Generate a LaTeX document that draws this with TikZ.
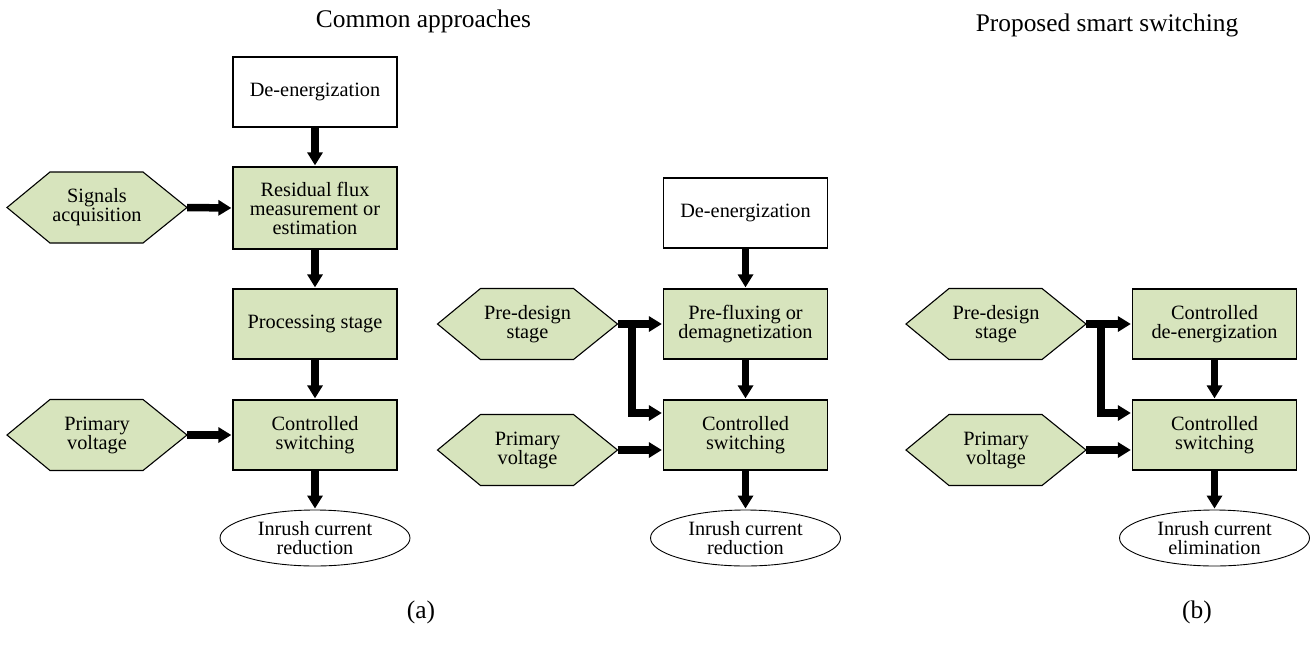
\documentclass[tikz,border=0pt]{standalone}
\usepackage{fontspec}
\setmainfont{Liberation Serif}
\usetikzlibrary{arrows.meta,shapes.geometric}
\definecolor{boxgreen}{RGB}{215,228,189}
\tikzset{
  box/.style={draw=black, line width=1.3pt, fill=boxgreen, minimum width=164pt, minimum height=70pt, inner sep=0pt, align=center, font=\txt},
  whitebox/.style={box, fill=white},
  hexfill/.style={draw=black, line width=1.1pt, fill=boxgreen, line join=miter},
  hextext/.style={minimum width=180pt, minimum height=71pt, inner sep=0pt, align=center, font=\txt},
  oval/.style={ellipse, draw=black, line width=0.9pt, minimum width=190pt, minimum height=56pt, inner sep=0pt, align=center, font=\txt},
  arr/.style={line width=7.5pt, -{Triangle[length=13pt,width=15pt]}, shorten >=1pt},
  lbl/.style={font=\txt, inner sep=0pt},
  title/.style={font=\ttl, inner sep=0pt}
}
\newcommand\txt{\fontsize{20.3}{19}\selectfont}
\newcommand\ttl{\fontsize{25.4}{30}\selectfont}
\newcommand\hexnode[4]{%
  \filldraw[hexfill] (#2-90,#3) -- (#2-47,#3-35.5) -- (#2+46,#3-35.5) -- (#2+90,#3) -- (#2+46,#3+35.5) -- (#2-47,#3+35.5) -- cycle;
  \node[hextext] (#1) at (#2,#3) {#4};}
\begin{document}
\begin{tikzpicture}[x=1pt, y=-1pt]
\useasboundingbox (0,0) rectangle (1314,646);

% titles
\node[title] (t1) at (423.5,21) {Common approaches};
\node[title] (t2) at (1107,25) {Proposed smart switching};
\node[title] (la) at (421,612) {(a)};
\node[title] (lb) at (1197,612) {(b)};

% ---- column A ----
\node[whitebox] (deA) at (315,92) {De-energization};
\node[box, minimum height=82pt] (res) at (315,208) {Residual flux\\measurement or\\estimation};
\node[box] (proc) at (315,324) {Processing stage};
\node[box] (csA) at (315,435) {Controlled\\switching};
\node[oval] (elA) at (315,538) {Inrush current\\reduction};
\hexnode{sig}{97}{207.5}{Signals\\acquisition}
\hexnode{pvA}{97}{435}{Primary\\voltage}

\draw[arr] (deA) -- (res);
\draw[arr] (res) -- (proc);
\draw[arr] (proc) -- (csA);
\draw[arr] (csA) -- (elA);
\draw[arr] (sig.east) -- (res.west);
\draw[arr] (pvA.east) -- (csA.west);

% ---- column B ----
\node[whitebox] (deB) at (745.5,213) {De-energization};
\node[box] (pre) at (745.5,324) {Pre-fluxing or\\demagnetization};
\node[box] (csB) at (745.5,435) {Controlled\\switching};
\node[oval] (elB) at (745.5,538) {Inrush current\\reduction};
\hexnode{pdB}{527.5}{324}{Pre-design\\stage}
\hexnode{pvB}{527.5}{450}{Primary\\voltage}
\coordinate (brB) at (632,324);

\draw[arr] (deB) -- (pre);
\draw[arr] (pre) -- (csB);
\draw[arr] (csB) -- (elB);
\draw[arr] (pdB.east) -- (pre.west);
\draw[arr] (brB) |- ([yshift=22pt]csB.west);
\draw[arr] (pvB.east) -- ([yshift=-15pt]csB.west);

% ---- column C ----
\node[box] (cde) at (1214.5,324) {Controlled\\de-energization};
\node[box] (csC) at (1214.5,435) {Controlled\\switching};
\node[oval] (elC) at (1214.5,538) {Inrush current\\elimination};
\hexnode{pdC}{996}{324}{Pre-design\\stage}
\hexnode{pvC}{996}{450}{Primary\\voltage}
\coordinate (brC) at (1101,324);

\draw[arr] (cde) -- (csC);
\draw[arr] (csC) -- (elC);
\draw[arr] (pdC.east) -- (cde.west);
\draw[arr] (brC) |- ([yshift=22pt]csC.west);
\draw[arr] (pvC.east) -- ([yshift=-15pt]csC.west);
\end{tikzpicture}
\end{document}
